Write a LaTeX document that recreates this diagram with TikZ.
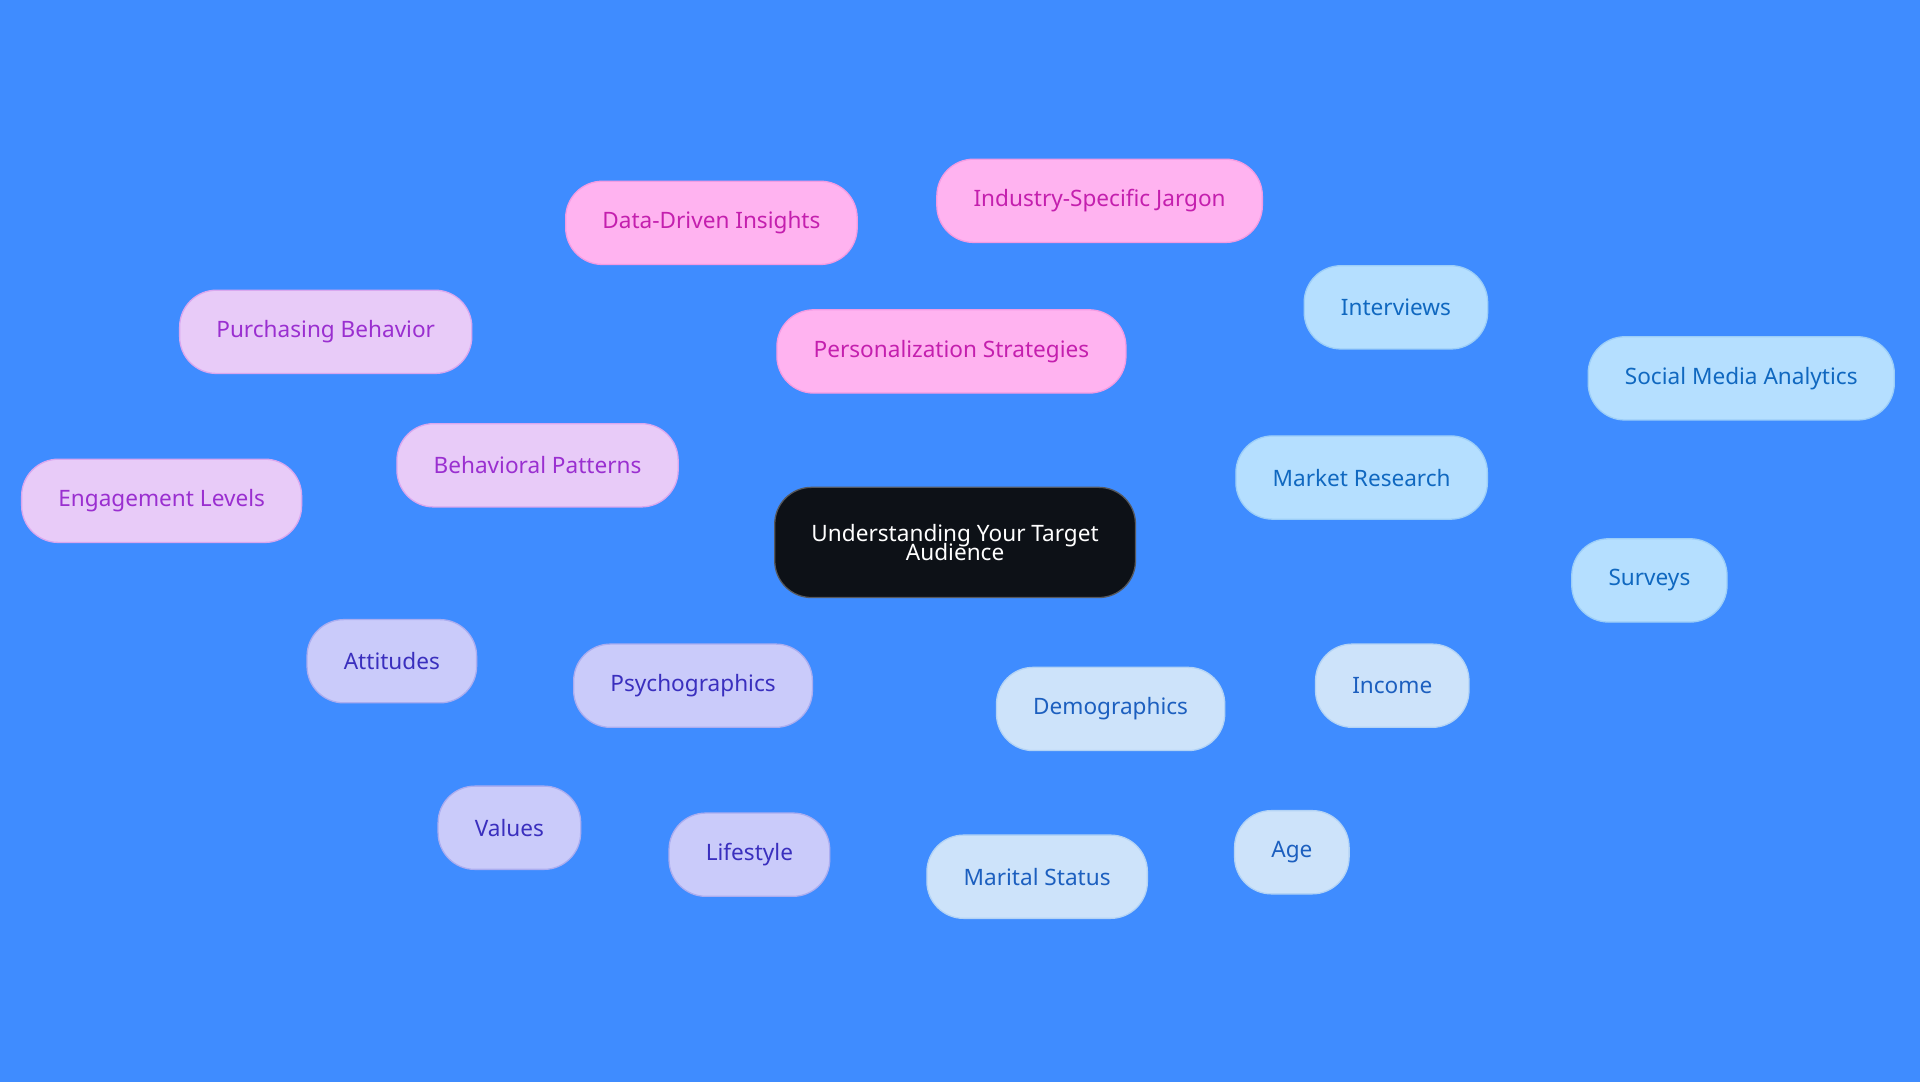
\documentclass[tikz,border=0pt]{standalone}
\usepackage{fontspec}
\setmainfont{Noto Sans}
\usetikzlibrary{backgrounds}

\definecolor{bgblue}{HTML}{3F8CFF}
\definecolor{rootfill}{HTML}{0D1117}
\definecolor{pinkfill}{HTML}{FFB3F0}
\definecolor{pinktext}{HTML}{C41FAE}
\definecolor{pinkline}{HTML}{F39BE3}
\definecolor{violfill}{HTML}{E8CBF8}
\definecolor{violtext}{HTML}{9A2FD0}
\definecolor{violline}{HTML}{D9A7EF}
\definecolor{indfill}{HTML}{CACBFA}
\definecolor{indtext}{HTML}{3A2FBE}
\definecolor{indline}{HTML}{ABADF0}
\definecolor{demfill}{HTML}{CDE3FA}
\definecolor{demtext}{HTML}{1C5FBF}
\definecolor{demline}{HTML}{B3D3F5}
\definecolor{mktfill}{HTML}{B5DFFF}
\definecolor{mkttext}{HTML}{1068C0}
\definecolor{mktline}{HTML}{9CCEF8}

\tikzset{
  box/.style={rounded corners=0.6cm, minimum height=1.36cm, inner xsep=0.6cm,
    font=\fontsize{10.5}{12}\selectfont, draw, line width=0.6pt},
  root/.style={box, fill=rootfill, draw=rootfill!70!white, text=white, align=center,
    minimum height=1.8cm, minimum width=5.88cm},
  pers/.style={box, fill=pinkfill, draw=pinkline, text=pinktext},
  behav/.style={box, fill=violfill, draw=violline, text=violtext},
  psych/.style={box, fill=indfill, draw=indline, text=indtext},
  demo/.style={box, fill=demfill, draw=demline, text=demtext},
  mkt/.style={box, fill=mktfill, draw=mktline, text=mkttext},
  link/.style={line width=1.3pt}
}

\begin{document}
\begin{tikzpicture}[x=0.02cm, y=-0.02cm]
\fill[bgblue] (0,0) rectangle (1568,884);
\useasboundingbox (0,0) rectangle (1568,884);

% nodes
\node[root] (aud) at (780,443) {Understanding Your Target\\[-3pt]Audience};

\node[pers] (pers) at (777,287) {Personalization Strategies};
\node[pers] (data) at (581,182) {Data-Driven Insights};
\node[pers] (jarg) at (898,164) {Industry-Specific Jargon};

\node[behav] (behav) at (439,380) {Behavioral Patterns};
\node[behav] (purch) at (266,271) {Purchasing Behavior};
\node[behav] (engag) at (132,409) {Engagement Levels};

\node[mkt] (mkt) at (1112,390) {Market Research};
\node[mkt] (inter) at (1140,251) {Interviews};
\node[mkt] (social) at (1422,309) {Social Media Analytics};
\node[mkt] (surv) at (1347,474) {Surveys};

\node[demo] (demo) at (907,579) {Demographics};
\node[demo] (inc) at (1137,560) {Income};
\node[demo] (age) at (1055,696) {Age};
\node[demo] (mar) at (847,716) {Marital Status};

\node[psych] (psych) at (566,560) {Psychographics};
\node[psych] (att) at (320,540) {Attitudes};
\node[psych] (val) at (416,676) {Values};
\node[psych] (life) at (612,698) {Lifestyle};

% links
\begin{scope}[on background layer]
\draw[link, pinkline] (aud) -- (pers) (pers) -- (data) (pers) -- (jarg);
\draw[link, violline] (aud) -- (behav) (behav) -- (purch) (behav) -- (engag);
\draw[link, mktline] (aud) -- (mkt) (mkt) -- (inter) (mkt) -- (social) (mkt) -- (surv);
\draw[link, demline] (aud) -- (demo) (demo) -- (inc) (demo) -- (age) (demo) -- (mar);
\draw[link, indline] (aud) -- (psych) (psych) -- (att) (psych) -- (val) (psych) -- (life);
\end{scope}

\end{tikzpicture}
\end{document}
